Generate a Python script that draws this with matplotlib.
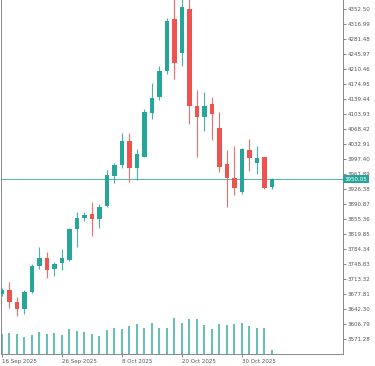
import matplotlib
matplotlib.use("Agg")
import matplotlib.pyplot as plt
import numpy as np
import pandas as pd

dates = pd.bdate_range("2025-09-16", periods=37)
opens = [3679, 3688, 3659, 3642, 3684, 3745, 3765, 3737, 3751, 3759, 3833, 3858, 3868, 3856,
         3887, 3957, 3985, 4041, 3976, 4003, 4108, 4144, 4207, 4329, 4248, 4353, 4124, 4097,
         4129, 4072, 3986, 3954, 3921, 4019, 3989, 4002, 3932]
highs = [3692, 3708, 3672, 3688, 3749, 3791, 3779, 3755, 3784, 3835, 3873, 3873, 3897, 3892,
         3971, 3989, 4059, 4059, 4022, 4116, 4179, 4218, 4331, 4379, 4381, 4381, 4161, 4156,
         4144, 4109, 4019, 4030, 4025, 4046, 4030, 4004, 3952]
lows = [3675, 3645, 3627, 3631, 3680, 3738, 3716, 3721, 3735, 3757, 3791, 3852, 3817, 3834,
        3884, 3941, 3976, 3944, 3948, 4003, 4092, 4138, 4199, 4187, 4218, 4081, 4004, 4065,
        4043, 3968, 3885, 3913, 3915, 3970, 3962, 3928, 3928]
closes = [3688, 3660, 3643, 3684, 3746, 3764, 3735, 3749, 3765, 3833, 3858, 3866, 3856, 3884,
          3960, 3984, 4041, 3976, 4010, 4110, 4142, 4207, 4325, 4226, 4357, 4124, 4098, 4124,
          4105, 3980, 3952, 3929, 4023, 4000, 4001, 3930, 3950]
volumes = [200, 213, 197, 173, 190, 220, 197, 213, 190, 247, 233, 223, 197, 183, 243, 257, 253,
           280, 297, 263, 313, 257, 257, 363, 307, 347, 350, 287, 250, 300, 287, 300, 307, 280,
           260, 260, 40]
last_price = 3950.05
price_ticks = [3571.28, 3606.79, 3642.30, 3677.81, 3713.32, 3748.83, 3784.34, 3819.85, 3855.36,
               3890.87, 3926.38, 3961.89, 3997.40, 4032.91, 4068.42, 4103.93, 4139.44, 4174.95,
               4210.46, 4245.97, 4281.48, 4316.99, 4352.50]
date_tick_labels = ["16 Sep 2025", "26 Sep 2025", "8 Oct 2025", "20 Oct 2025", "30 Oct 2025"]
date_tick_pos = [0, 8, 16, 24, 32]

UP = "#26a69a"
DOWN = "#ef5350"

fig = plt.figure(figsize=(3.75, 3.66), dpi=100)
ax = fig.add_axes([0.003, 12/366, 342/375, 354/366])
axv = ax.twinx()
axv.set_zorder(0)
ax.set_zorder(1)
ax.patch.set_visible(False)

x = np.arange(len(opens))
o = np.array(opens); c = np.array(closes); h = np.array(highs); l = np.array(lows)
colors = [UP if cc >= oo else DOWN for oo, cc in zip(o, c)]

ax.vlines(x, l, h, colors=colors, linewidth=0.8, alpha=0.85, zorder=2)
bottoms = np.minimum(o, c)
heights = np.maximum(np.abs(c - o), 1.5)
ax.bar(x, heights, bottom=bottoms, width=0.6, color=colors, linewidth=0, zorder=3)

axv.bar(x, volumes, width=0.24, color=UP, alpha=0.7, linewidth=0)
axv.set_ylim(0, 3540)
axv.set_yticks([])
for s in axv.spines.values():
    s.set_visible(False)

ax.axhline(last_price, color=UP, linewidth=0.7, alpha=0.8, zorder=1)

ax.set_xlim(-0.1, 45.5)
ax.set_ylim(3536.6, 4374.5)

ax.yaxis.tick_right()
ax.set_yticks(price_ticks)
ax.set_yticklabels([f"{v:.2f}" for v in price_ticks])
ax.tick_params(axis="y", labelsize=4, colors="#555555", length=2.5, width=0.5, pad=1)
ax.set_xticks(date_tick_pos)
ax.set_xticklabels(date_tick_labels, ha="left")
ax.tick_params(axis="x", labelsize=4, colors="#555555", length=2.5, width=0.5, pad=1)

ax.spines["top"].set_visible(False)
for side in ["left", "right", "bottom"]:
    ax.spines[side].set_color("#888888")
    ax.spines[side].set_linewidth(0.7)

ax.annotate(f"{last_price:.2f}", xy=(1.0, last_price), xycoords=("axes fraction", "data"),
            xytext=(1, 0), textcoords="offset points", ha="left", va="center",
            fontsize=4, color="white",
            bbox=dict(boxstyle="square,pad=0.3", fc=UP, ec="none"), zorder=5,
            annotation_clip=False)

fig.savefig("out.png", dpi=100)
